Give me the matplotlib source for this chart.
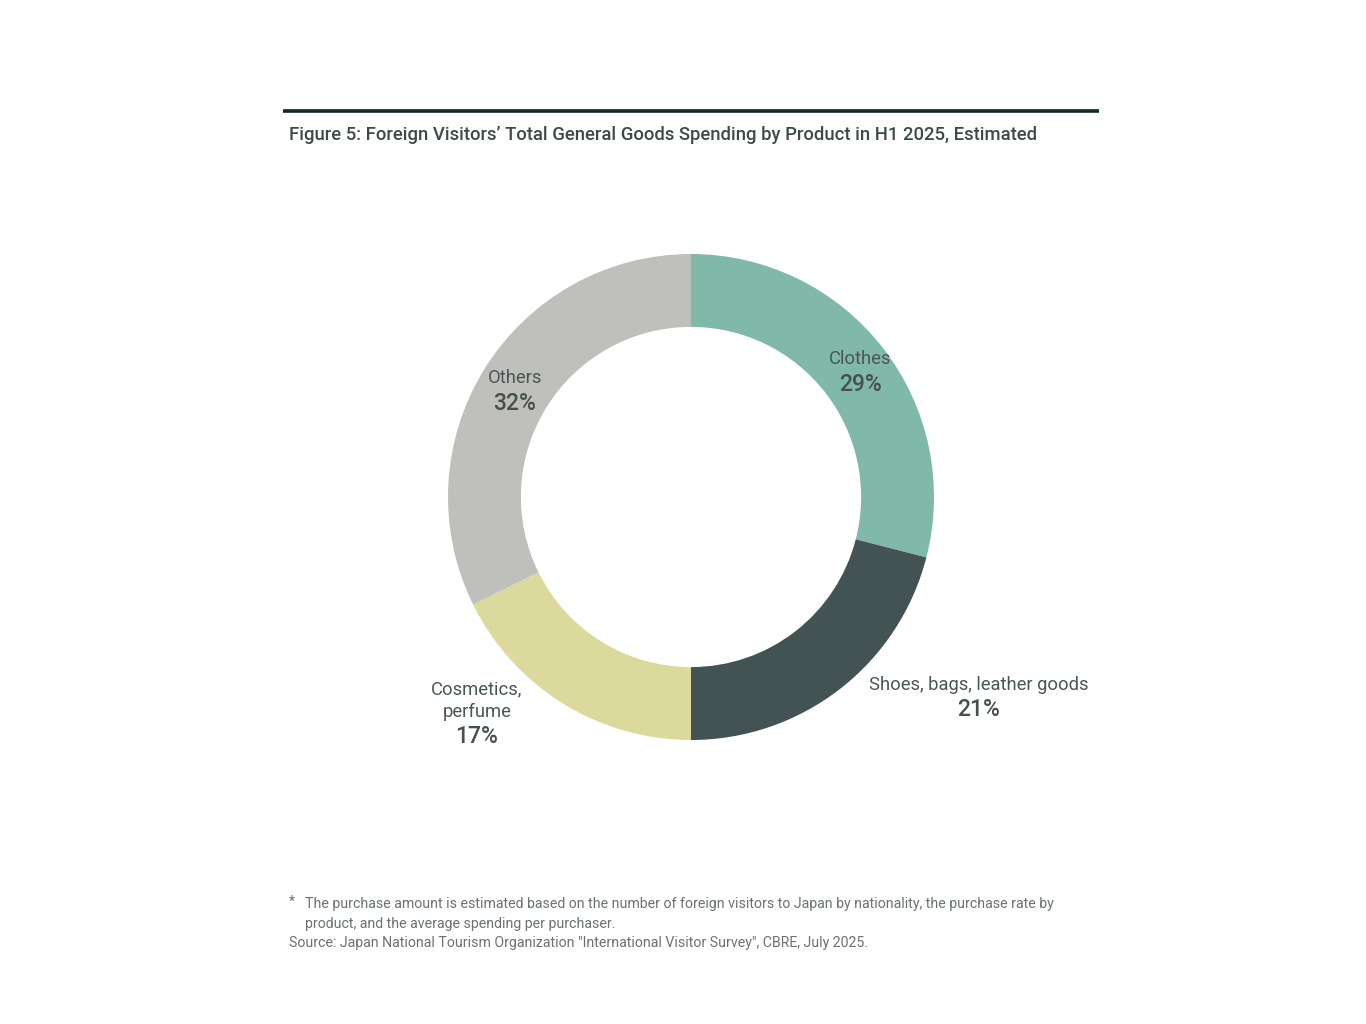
import numpy as np
from matplotlib import pyplot as plt

plt.rcParams['font.family'] = ['Roboto', 'DejaVu Sans']

# data
categories = ['Clothes', 'Shoes, bags, leather goods', 'Cosmetics,\nperfume', 'Others']
shares = [29.0, 21.0, 17.7, 32.3]
pct_labels = ['29%', '21%', '17%', '32%']
colors = ['#80b9aa', '#435253', '#dbd99b', '#bfc0bc']

title = 'Figure 5: Foreign Visitors\u2019 Total General Goods Spending by Product in H1 2025, Estimated'
note = ('The purchase amount is estimated based on the number of foreign visitors to Japan by nationality, the purchase rate by\n'
        'product, and the average spending per purchaser.')
source = 'Source: Japan National Tourism Organization "International Visitor Survey", CBRE, July 2025.'

# label placement (radius, angle nudge in degrees) per slice
label_pos = [(0.87, -0.9), (1.44, 17.6), (1.28, -11.6), (0.85, 0.4)]

W, H = 1366, 1024
fig = plt.figure(figsize=(W / 100, H / 100), dpi=100)
fig.patch.set_facecolor('white')

cx, cy, r = 691, 497, 243
ax = fig.add_axes([(cx - r) / W, (H - cy - r) / H, 2 * r / W, 2 * r / H])
wedges, _ = ax.pie(shares, colors=colors, startangle=90, counterclock=False,
                   radius=1, wedgeprops=dict(width=0.30, linewidth=0))
ax.set_xlim(-1, 1)
ax.set_ylim(-1, 1)
ax.set_aspect('equal')
ax.axis('off')

px = 1 / r  # one pixel in data units
for w, cat, pct, (rr, nudge) in zip(wedges, categories, pct_labels, label_pos):
    ang = np.deg2rad((w.theta1 + w.theta2) / 2 + nudge)
    x, y = rr * np.cos(ang), rr * np.sin(ang)
    ax.text(x, y + 6 * px, cat, ha='center', va='baseline', fontsize=13.2,
            color='#4a5656', linespacing=1.28, clip_on=False)
    ax.text(x, y - 20.5 * px, pct, ha='center', va='baseline', fontsize=16.5,
            fontweight='medium', color='#46504f', clip_on=False)

# top rule and title
fig.add_artist(plt.Line2D([283 / W, 1099 / W], [1 - 111 / H, 1 - 111 / H],
                          color='#0f2a2a', linewidth=2.6, solid_capstyle='butt'))
fig.text(289 / W, 1 - 135 / H, title, ha='left', va='center', fontsize=13.35,
         fontweight='medium', color='#3e4a4a')

# footnotes
fig.text(289 / W, 1 - 902 / H, '*', ha='left', va='center', fontsize=10, color='#6b7272')
fig.text(305 / W, 1 - 914 / H, note, ha='left', va='center', fontsize=10.2,
         color='#6b7272', linespacing=1.6)
fig.text(289 / W, 1 - 943.5 / H, source, ha='left', va='center', fontsize=10.2,
         color='#6b7272')

plt.savefig('out.png', dpi=100, facecolor='white')
